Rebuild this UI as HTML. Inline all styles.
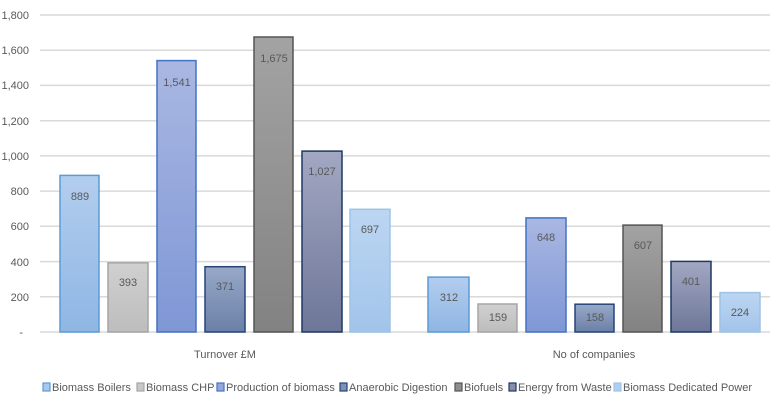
<!DOCTYPE html>
<html><head><meta charset="utf-8"><style>body{margin:0;background:#fff}svg{display:block}</style></head><body>
<svg width="770" height="400" xmlns="http://www.w3.org/2000/svg" font-family="Liberation Sans, sans-serif">
<defs>
<linearGradient id="g1" x1="0" y1="0" x2="0" y2="1"><stop offset="0" stop-color="#b3cdee"/><stop offset="1" stop-color="#8fb6e4"/></linearGradient>
<linearGradient id="g2" x1="0" y1="0" x2="0" y2="1"><stop offset="0" stop-color="#d0d0d0"/><stop offset="1" stop-color="#bdbdbd"/></linearGradient>
<linearGradient id="g3" x1="0" y1="0" x2="0" y2="1"><stop offset="0" stop-color="#a9b7e2"/><stop offset="1" stop-color="#7f97d6"/></linearGradient>
<linearGradient id="g4" x1="0" y1="0" x2="0" y2="1"><stop offset="0" stop-color="#98a9c8"/><stop offset="1" stop-color="#6b80a8"/></linearGradient>
<linearGradient id="g5" x1="0" y1="0" x2="0" y2="1"><stop offset="0" stop-color="#a3a3a3"/><stop offset="1" stop-color="#828282"/></linearGradient>
<linearGradient id="g6" x1="0" y1="0" x2="0" y2="1"><stop offset="0" stop-color="#a2a8c2"/><stop offset="1" stop-color="#6e7699"/></linearGradient>
<linearGradient id="g7" x1="0" y1="0" x2="0" y2="1"><stop offset="0" stop-color="#bcd6f2"/><stop offset="1" stop-color="#a2c4ea"/></linearGradient>
</defs>
<g stroke="#d9d9d9" stroke-width="1.5">
<line x1="40" x2="770" y1="15" y2="15"/><line x1="40" x2="770" y1="50.2" y2="50.2"/><line x1="40" x2="770" y1="85.4" y2="85.4"/><line x1="40" x2="770" y1="120.7" y2="120.7"/><line x1="40" x2="770" y1="155.9" y2="155.9"/><line x1="40" x2="770" y1="191.1" y2="191.1"/><line x1="40" x2="770" y1="226.3" y2="226.3"/><line x1="40" x2="770" y1="261.6" y2="261.6"/><line x1="40" x2="770" y1="296.8" y2="296.8"/><line x1="40" x2="770" y1="332" y2="332"/>
</g>
<g font-size="11" fill="#595959" text-anchor="end">
<text x="29" y="19">1,800</text><text x="29" y="54">1,600</text><text x="29" y="89">1,400</text><text x="29" y="125">1,200</text><text x="29" y="160">1,000</text><text x="29" y="195">800</text><text x="29" y="230">600</text><text x="29" y="266">400</text><text x="29" y="301">200</text><text x="23" y="336">-</text>
</g>
<g stroke-width="1.5">
<rect x="60" y="175.4" width="39" height="156.6" fill="url(#g1)" stroke="#5b9bd5"/>
<rect x="108" y="262.8" width="40" height="69.2" fill="url(#g2)" stroke="#a5a5a5"/>
<rect x="157" y="60.6" width="39" height="271.4" fill="url(#g3)" stroke="#4472c4"/>
<rect x="205" y="266.7" width="40" height="65.3" fill="url(#g4)" stroke="#264478"/>
<rect x="254" y="37" width="39" height="295" fill="url(#g5)" stroke="#555"/>
<rect x="302" y="151.1" width="40" height="180.9" fill="url(#g6)" stroke="#1f3864"/>
<rect x="350" y="209.3" width="40" height="122.7" fill="url(#g7)" stroke="#9dc3e6"/>
<rect x="428" y="277.1" width="41" height="54.9" fill="url(#g1)" stroke="#5b9bd5"/>
<rect x="478" y="304" width="39" height="28" fill="url(#g2)" stroke="#a5a5a5"/>
<rect x="526" y="217.9" width="40" height="114.1" fill="url(#g3)" stroke="#4472c4"/>
<rect x="575" y="304.2" width="39" height="27.8" fill="url(#g4)" stroke="#264478"/>
<rect x="623" y="225.1" width="39" height="106.9" fill="url(#g5)" stroke="#555"/>
<rect x="671" y="261.4" width="40" height="70.6" fill="url(#g6)" stroke="#1f3864"/>
<rect x="720" y="292.6" width="40" height="39.4" fill="url(#g7)" stroke="#9dc3e6"/>
</g>
<g font-size="11" fill="#595959" text-anchor="middle">
<text x="80" y="200">889</text><text x="128" y="286">393</text><text x="177" y="86">1,541</text><text x="225" y="290">371</text><text x="274" y="62">1,675</text><text x="322" y="175">1,027</text><text x="370" y="233">697</text>
<text x="449" y="301">312</text><text x="498" y="321">159</text><text x="546" y="241">648</text><text x="595" y="321">158</text><text x="643" y="249">607</text><text x="691" y="285">401</text><text x="740" y="316">224</text>
</g>
<g font-size="11" fill="#595959" text-anchor="middle">
<text x="225" y="358">Turnover £M</text><text x="594" y="358">No of companies</text>
</g>
<g font-size="11" fill="#595959" stroke-width="1.2">
<rect x="43" y="383" width="7" height="8" fill="#a9c8ec" stroke="#5b9bd5"/><text x="52" y="391">Biomass Boilers</text>
<rect x="137" y="383" width="7" height="8" fill="#c8c8c8" stroke="#a5a5a5"/><text x="146" y="391">Biomass CHP</text>
<rect x="217" y="383" width="7" height="8" fill="#94a7dc" stroke="#4472c4"/><text x="226" y="391">Production of biomass</text>
<rect x="340" y="383" width="7" height="8" fill="#7f92b6" stroke="#264478"/><text x="349" y="391">Anaerobic Digestion</text>
<rect x="455" y="383" width="7" height="8" fill="#8f8f8f" stroke="#555"/><text x="464" y="391">Biofuels</text>
<rect x="509" y="383" width="7" height="8" fill="#878ead" stroke="#1f3864"/><text x="518" y="391">Energy from Waste</text>
<rect x="614" y="383" width="7" height="8" fill="#b0cff0" stroke="#9dc3e6"/><text x="623" y="391">Biomass Dedicated Power</text>
</g>
</svg>
</body></html>
